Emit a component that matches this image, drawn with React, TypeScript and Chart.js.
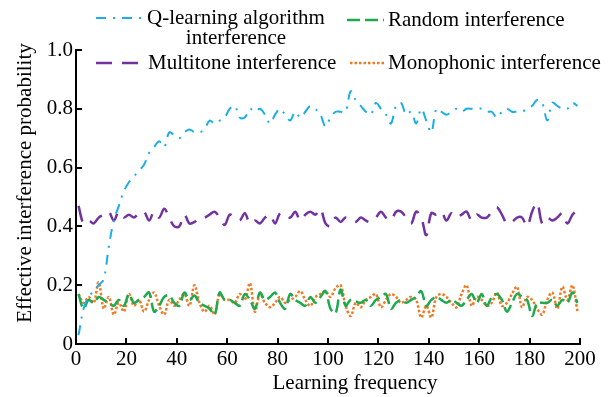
import React, { useEffect, useRef } from "react";
import { Chart, registerables } from "chart.js";

Chart.register(...registerables);

// ---------- data ----------
const learningFrequency = [
  1, 3, 5, 7, 9, 11, 13, 15, 17, 19, 21, 23, 25, 27, 29, 31, 33, 35, 37, 39,
  41, 43, 45, 47, 49, 51, 53, 55, 57, 59, 61, 63, 65, 67, 69, 71, 73, 75, 77, 79,
  81, 83, 85, 87, 89, 91, 93, 95, 97, 99, 101, 103, 105, 107, 109, 111, 113, 115, 117, 119,
  121, 123, 125, 127, 129, 131, 133, 135, 137, 139, 141, 143, 145, 147, 149, 151, 153, 155, 157, 159,
  161, 163, 165, 167, 169, 171, 173, 175, 177, 179, 181, 183, 185, 187, 189, 191, 193, 195, 197, 199,
];

const qLearning = [
  0.03, 0.12, 0.16, 0.18, 0.2, 0.22, 0.33, 0.42, 0.47, 0.52, 0.55, 0.57, 0.59, 0.61, 0.65, 0.67, 0.69, 0.67, 0.72, 0.71,
  0.7, 0.72, 0.73, 0.72, 0.72, 0.73, 0.76, 0.75, 0.76, 0.77, 0.8, 0.81, 0.77, 0.77, 0.8, 0.79, 0.8, 0.78, 0.75, 0.78,
  0.8, 0.78, 0.76, 0.79, 0.77, 0.79, 0.81, 0.8, 0.78, 0.74, 0.77, 0.79, 0.79, 0.79, 0.86, 0.83, 0.81, 0.79, 0.78, 0.82,
  0.8, 0.78, 0.75, 0.81, 0.82, 0.78, 0.79, 0.75, 0.8, 0.76, 0.72, 0.8, 0.79, 0.78, 0.79, 0.8, 0.79, 0.8, 0.8, 0.8,
  0.8, 0.79, 0.79, 0.77, 0.79, 0.8, 0.79, 0.79, 0.79, 0.8, 0.81, 0.83, 0.82, 0.76, 0.82, 0.81, 0.8, 0.8, 0.82, 0.81,
];

const multitone = [
  0.47, 0.41, 0.42, 0.41, 0.43, 0.44, 0.45, 0.42, 0.45, 0.43, 0.44, 0.43, 0.445, 0.45, 0.42, 0.45, 0.43, 0.46, 0.43, 0.4,
  0.4, 0.44, 0.41, 0.415, 0.43, 0.43, 0.44, 0.45, 0.43, 0.405, 0.44, 0.43, 0.42, 0.445, 0.41, 0.42, 0.41, 0.43, 0.44, 0.41,
  0.445, 0.44, 0.43, 0.45, 0.42, 0.44, 0.45, 0.44, 0.46, 0.41, 0.4, 0.43, 0.415, 0.43, 0.42, 0.415, 0.43, 0.42, 0.415, 0.43,
  0.45, 0.43, 0.42, 0.45, 0.45, 0.43, 0.41, 0.45, 0.43, 0.37, 0.445, 0.44, 0.45, 0.42, 0.445, 0.43, 0.44, 0.45, 0.42, 0.44,
  0.43, 0.43, 0.45, 0.465, 0.44, 0.41, 0.415, 0.43, 0.43, 0.4, 0.45, 0.48, 0.41, 0.43, 0.42, 0.43, 0.445, 0.41, 0.44, 0.455,
];

const randomInterference = [
  0.17, 0.12, 0.15, 0.14, 0.16, 0.15, 0.14, 0.13, 0.15, 0.13, 0.17, 0.14, 0.15, 0.16, 0.175, 0.11, 0.13, 0.16, 0.165, 0.14,
  0.13, 0.175, 0.15, 0.165, 0.14, 0.13, 0.12, 0.1, 0.175, 0.15, 0.15, 0.14, 0.13, 0.17, 0.15, 0.12, 0.175, 0.15, 0.16, 0.175,
  0.14, 0.12, 0.17, 0.15, 0.14, 0.13, 0.16, 0.14, 0.16, 0.18, 0.12, 0.105, 0.185, 0.13, 0.15, 0.145, 0.14, 0.15, 0.13, 0.15,
  0.16, 0.17, 0.12, 0.14, 0.15, 0.14, 0.15, 0.16, 0.18, 0.13, 0.15, 0.16, 0.15, 0.14, 0.15, 0.14, 0.13, 0.15, 0.17, 0.14,
  0.17, 0.13, 0.16, 0.17, 0.15, 0.11, 0.14, 0.17, 0.16, 0.15, 0.095, 0.14, 0.14, 0.14, 0.15, 0.13, 0.15, 0.14, 0.175, 0.14,
];

const monophonic = [
  0.17, 0.14, 0.16, 0.14, 0.21, 0.12, 0.16, 0.1, 0.14, 0.11, 0.17, 0.13, 0.15, 0.11, 0.15, 0.175, 0.13, 0.1, 0.15, 0.13,
  0.15, 0.17, 0.13, 0.2, 0.14, 0.11, 0.13, 0.1, 0.17, 0.15, 0.15, 0.14, 0.17, 0.15, 0.207, 0.11, 0.17, 0.14, 0.125, 0.14,
  0.16, 0.14, 0.15, 0.16, 0.18, 0.15, 0.13, 0.16, 0.17, 0.18, 0.16, 0.19, 0.2, 0.13, 0.095, 0.14, 0.125, 0.15, 0.16, 0.17,
  0.125, 0.15, 0.17, 0.16, 0.14, 0.15, 0.16, 0.15, 0.09, 0.13, 0.09, 0.16, 0.17, 0.16, 0.14, 0.125, 0.17, 0.2, 0.13, 0.16,
  0.15, 0.13, 0.14, 0.175, 0.13, 0.14, 0.17, 0.195, 0.125, 0.16, 0.15, 0.12, 0.1, 0.15, 0.175, 0.12, 0.195, 0.15, 0.2, 0.11,
];

const xTickValues = [0, 20, 40, 60, 80, 100, 120, 140, 160, 180, 200];
const xTickLabels = ["0", "20", "40", "60", "80", "100", "120", "140", "160", "180", "200"];
const yTickValues = [0, 0.2, 0.4, 0.6, 0.8, 1.0];
const yTickLabels = ["0", "0.2", "0.4", "0.6", "0.8", "1.0"];

const seriesNames = [
  "Q-learning algorithm interference",
  "Random interference",
  "Multitone interference",
  "Monophonic interference",
];
const legendLines = [
  ["Q-learning algorithm", "interference"],
  ["Random interference"],
  ["Multitone interference"],
  ["Monophonic interference"],
];
const xTitle = "Learning frequency";
const yTitle = "Effective interference probability";

// ---------- styles ----------
const FONT = "'Liberation Serif', 'Times New Roman', serif";
const colors = ["#1AAEE8", "#1DAA4E", "#7232A0", "#F07A22"];
const dashes = [[10, 7, 2, 7], [13, 5], [16, 10], [2.5, 2]];
const widths = [2, 2.5, 2.5, 2.5];

// legend layout: [symbolStart, symbolEnd, y, textX]
const legendLayout = [
  [96, 141, 18, 147],
  [347, 384, 20, 388],
  [96, 139, 63, 148],
  [350, 384, 63, 388],
];

const overlayPlugin = {
  id: "overlayText",
  afterDraw(chart: any) {
    const ctx = chart.ctx as CanvasRenderingContext2D;
    const xs = chart.scales.x;
    const ys = chart.scales.y;
    const area = chart.chartArea;
    ctx.save();
    // inward ticks
    ctx.strokeStyle = "#000";
    ctx.lineWidth = 2;
    ctx.setLineDash([]);
    xTickValues.forEach((v) => {
      const px = Math.round(xs.getPixelForValue(v));
      ctx.beginPath();
      ctx.moveTo(px, area.bottom);
      ctx.lineTo(px, area.bottom - 6);
      ctx.stroke();
    });
    yTickValues.forEach((v) => {
      const py = Math.round(ys.getPixelForValue(v));
      ctx.beginPath();
      ctx.moveTo(area.left, py);
      ctx.lineTo(area.left + 6, py);
      ctx.stroke();
    });

    // legend
    ctx.font = `21px ${FONT}`;
    ctx.fillStyle = "#000";
    ctx.textBaseline = "middle";
    legendLines.forEach((lines, i) => {
      const [s, e, y, tx] = legendLayout[i];
      const ds = chart.data.datasets[i];
      ctx.strokeStyle = ds.borderColor;
      ctx.lineWidth = ds.borderWidth;
      ctx.setLineDash(ds.borderDash);
      ctx.beginPath();
      ctx.moveTo(s, y);
      ctx.lineTo(e, y);
      ctx.stroke();
      ctx.setLineDash([]);
      ctx.textAlign = "left";
      ctx.fillText(lines[0], tx, y);
      if (lines.length > 1) {
        const w = ctx.measureText(lines[0]).width;
        ctx.textAlign = "center";
        ctx.fillText(lines[1], tx + w / 2, y + 20);
      }
    });

    // axis titles
    ctx.textAlign = "center";
    ctx.fillText(xTitle, 355, 383);
    ctx.translate(25, 183);
    ctx.rotate(-Math.PI / 2);
    ctx.fillText(yTitle, 0, 0);
    ctx.restore();
  },
};

export default function App() {
  const canvasRef = useRef<HTMLCanvasElement | null>(null);

  useEffect(() => {
    const canvas = canvasRef.current;
    if (!canvas) return;
    const seriesValues = [qLearning, randomInterference, multitone, monophonic];
    const datasets = seriesValues.map((vals, i) => ({
      label: seriesNames[i],
      data: vals.map((v, j) => ({ x: learningFrequency[j], y: v })),
      borderColor: colors[i],
      backgroundColor: colors[i],
      borderWidth: widths[i],
      borderDash: dashes[i],
      pointRadius: 0,
      tension: 0.35,
      fill: false,
      order: [0, 2, 1, 3][i],
    }));

    const chart = new Chart(canvas, {
      type: "line",
      data: { datasets },
      plugins: [overlayPlugin],
      options: {
        responsive: false,
        animation: false,
        devicePixelRatio: 1,
        layout: { padding: { top: 50, right: 33, left: 0, bottom: 0 } },
        plugins: { legend: { display: false }, tooltip: { enabled: false } },
        scales: {
          x: {
            type: "linear",
            min: 0,
            max: 200,
            afterFit: (s: any) => {
              s.height = 53;
            },
            afterBuildTicks: (s: any) => {
              s.ticks = xTickValues.map((v) => ({ value: v }));
            },
            grid: { display: true, drawOnChartArea: false, drawTicks: false },
            border: { display: true, color: "#000", width: 2 },
            ticks: {
              padding: 3,
              color: "#000",
              font: { family: FONT, size: 21 },
              maxRotation: 0,
              autoSkip: false,
              callback: (v: any) => {
                const i = xTickValues.indexOf(Number(v));
                return i >= 0 ? xTickLabels[i] : "";
              },
            },
          },
          y: {
            type: "linear",
            min: 0,
            max: 1,
            afterFit: (s: any) => {
              s.width = 76;
            },
            afterBuildTicks: (s: any) => {
              s.ticks = yTickValues.map((v) => ({ value: v }));
            },
            grid: { display: true, drawOnChartArea: false, drawTicks: false },
            border: { display: true, color: "#000", width: 2 },
            ticks: {
              padding: 3,
              color: "#000",
              font: { family: FONT, size: 21 },
              autoSkip: false,
              callback: (v: any) => {
                const i = yTickValues.findIndex((t) => Math.abs(t - Number(v)) < 1e-9);
                return i >= 0 ? yTickLabels[i] : "";
              },
            },
          },
        },
      },
    });
    return () => chart.destroy();
  }, []);

  return (
    <div style={{ position: "fixed", left: 0, top: 0, width: 613, height: 397, background: "#fff" }}>
      <canvas ref={canvasRef} width={613} height={397} style={{ width: 613, height: 397 }} />
    </div>
  );
}
